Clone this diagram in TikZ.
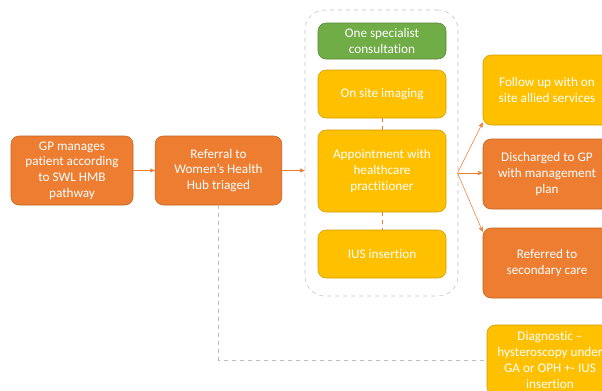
\documentclass[tikz,border=0pt]{standalone}
\usepackage{fontspec}
\setmainfont[Ligatures={NoCommon}]{Carlito}
\usetikzlibrary{arrows}
\definecolor{box_orange}{RGB}{237,125,49}
\definecolor{edge_orange}{RGB}{196,98,32}
\definecolor{box_yellow}{RGB}{255,192,0}
\definecolor{edge_yellow}{RGB}{208,156,0}
\definecolor{box_green}{RGB}{112,173,71}
\definecolor{edge_green}{RGB}{84,136,50}
\definecolor{line_gray}{RGB}{191,191,191}

\begin{document}
\begin{tikzpicture}[x=0.75pt,y=-0.75pt,>=stealth',thin]
    \tikzstyle{box}=[rounded corners=6pt, align=center, text=white, inner sep=0pt,
                     font=\fontsize{9.9}{11.8}\selectfont]
    \tikzstyle{ob}=[style=box, fill=box_orange, draw=edge_orange]
    \tikzstyle{yb}=[style=box, fill=box_yellow, draw=edge_yellow]
    \tikzstyle{gb}=[style=box, fill=box_green, draw=edge_green]
    \tikzstyle{group}=[draw=line_gray, dashed, rounded corners=15pt, minimum width=114.75pt, minimum height=214.5pt]
    \tikzstyle{flow}=[->, draw=box_orange]

    \useasboundingbox (0,0) rectangle (602,390);
    \clip (0,0) rectangle (602,390);

    % hub around the specialist consultation
    \node[group] (hub) at (381.5,153) {};

    \node[ob, minimum width=91.5pt, minimum height=51.75pt] (gp)  at (72,170.5)
        {GP manages\\patient according\\to SWL HMB\\pathway};
    \node[ob, minimum width=95pt, minimum height=51.75pt]   (ref) at (218.5,170.5)
        {Referral to\\Women’s Health\\Hub triaged};

    \node[gb, minimum width=96pt, minimum height=27pt]   (one)  at (382,41)  {One specialist\\consultation};
    \node[yb, minimum width=96pt, minimum height=36pt]   (img)  at (382,94)  {On site imaging};
    \node[yb, minimum width=96pt, minimum height=61.5pt] (appt) at (382,171) {Appointment with\\healthcare\\practitioner};
    \node[yb, minimum width=96pt, minimum height=36pt]   (ius)  at (382,254) {IUS insertion};

    \node[yb, minimum width=96pt, minimum height=52.5pt] (follow) at (547,90)  {Follow up with on\\site allied services};
    \node[ob, minimum width=96pt, minimum height=52.5pt] (disc)   at (547,174) {Discharged to GP\\with management\\plan};
    \node[ob, minimum width=96pt, minimum height=52.5pt] (sec)    at (547,263) {Referred to\\secondary care};
    \node[yb, minimum width=94.5pt, minimum height=52.5pt] (diag) at (550,360)
        {Diagnostic –\\hysteroscopy under\\GA or OPH +- IUS\\insertion};

    \coordinate (fan) at (457.5,173);

    \draw[flow] (gp) -- (ref);
    \draw[flow] (ref.east) -- (ref.east -| hub.west);
    \draw[box_orange, dashed] (img) -- (appt);
    \draw[box_orange, dashed] (appt) -- (ius);

    \path
     (fan) edge[flow] ([yshift=2pt]follow.south west)
     (fan) edge[flow] (fan -| disc.west)
     (fan) edge[flow] ([yshift=-3pt]sec.north west)
     ;

    \draw[line_gray, dashed] (ref.south) |- (diag.west);
\end{tikzpicture}
\end{document}
